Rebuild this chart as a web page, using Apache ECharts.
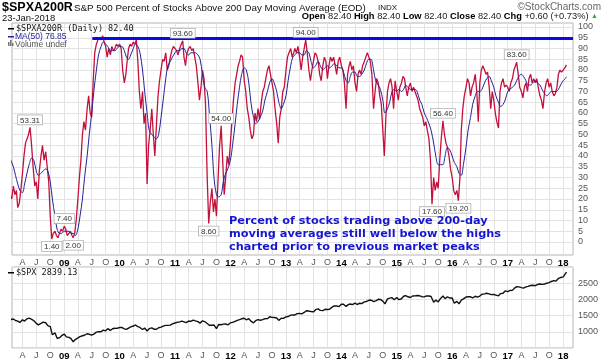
<!DOCTYPE html>
<html><head><meta charset="utf-8">
<script src="https://cdn.jsdelivr.net/npm/echarts@6/dist/echarts.min.js"></script>
<style>html,body{margin:0;padding:0;background:#fff}#c{width:605px;height:361px}</style>
</head><body><div id="c"></div>
<script>
// ---- $SPXA200R, sampled on the 1st, 11th and 21st of each month ----
const pct2008 = [30,22,20, 26,22,24, 16,18,24, 32,40,46, 46,50,53.31, 44,34,26, 28,20,33, 40,45,38, 42,35,28, 12,1.4,4, 5,3,2, 4,6,5];
const pct2009 = [7.4,6,3, 4,5,3, 2,4,10, 20,30,38, 50,56,52, 62,68,60, 58,75,88, 92,94,95, 94,96,93, 91,86,90, 87,91,89, 90,92,91];
const pct2010 = [92,90,80, 74,78,85, 90,92,91, 93,92,94, 84,70,62, 70,55,60, 27,45,52, 62,50,40, 55,68,75, 80,85,84, 88,80,82, 86,89,91];
const pct2011 = [90,89,87, 90,92,93.6, 86,82,88, 90,91,89, 90,86,82, 74,66,72, 80,76,64, 30,8.6,18, 25,14,20, 12,28,44, 54,38,22, 30,40,36];
const pct2012 = [46,56,66, 74,78,82, 84,87,86, 75,70,62, 58,52,48, 50,60,56, 62,57,64, 70,72,76, 80,82,78, 74,70,62, 55,46,58, 62,70,72];
const pct2013 = [80,86,88, 90,86,88, 90,88,91, 86,80,86, 90,94,88, 80,75,80, 84,88,87, 84,78,75, 82,86,84, 76,82,86, 84,86,82, 78,84,86];
const pct2014 = [82,80,74, 62,78,82, 84,80,82, 74,70,78, 80,78,82, 84,86,88, 86,84,78, 62,70,76, 74,68,64, 52,40,58, 70,74,76, 72,62,75];
const pct2015 = [70,66,72, 74,77,76, 72,68,72, 74,70,72, 70,68,66, 62,60,58, 54,56,52, 48,38,17.6, 30,24,28, 25,38,48, 56.4,50,46, 44,40,34];
const pct2016 = [30,24,22, 24,19.2,30, 52,62,68, 72,76,74, 68,72,74, 78,70,56, 74,80,82, 80,78,79, 72,62,70, 66,60,56, 53,70,74, 76,72,73];
const pct2017 = [72,70,74, 76,80,82, 83.6,78,72, 70,67,72, 74,70,76, 78,74,76, 74,76,72, 68,66,62, 70,74,76, 72,74,70, 68,69,72, 78,80,79];
const pct2018 = [80,81,82.4]; // Jan 2, Jan 12, Jan 23

// ---- MA(50), sampled on the 1st and 15th of each month ----
const ma2008 = [40,38, 35,31, 27,24, 23,27, 32,36, 39,38, 33,31, 32,33, 34,33, 28,20, 12,6, 4,4];
const ma2009 = [5,5, 5,4, 4,3, 6,12, 20,30, 40,50, 60,70, 80,87, 91,93, 92,91, 89,89, 89,90];
const ma2010 = [91,91, 89,86, 85,87, 90,92, 91,88, 80,70, 60,52, 50,49, 48,50, 58,66, 76,82, 84,86];
const ma2011 = [88,89, 89,90, 90,88, 87,88, 88,88, 87,85, 78,72, 70,60, 45,30, 22,21, 22,28, 32,34];
const ma2012 = [38,45, 55,64, 72,78, 81,80, 74,65, 58,55, 56,58, 61,66, 70,74, 76,74, 70,65, 62,64];
const ma2013 = [68,75, 82,86, 87,88, 88,87, 87,89, 88,84, 81,82, 84,82, 80,81, 82,81, 82,83, 82,81];
const ma2014 = [81,79, 75,74, 77,79, 79,77, 77,78, 80,83, 85,85, 80,75, 73,71, 66,60, 62,65, 70,71];
const ma2015 = [70,71, 70,71, 73,72, 71,71, 71,70, 66,64, 60,58, 55,52, 46,40, 36,36, 36,40, 44,43];
const ma2016 = [40,37, 35,32, 31,36, 44,52, 58,64, 68,70, 70,71, 74,76, 77,75, 72,68, 65,63, 64,66];
const ma2017 = [70,71, 72,73, 75,77, 78,77, 75,73, 73,74, 75,74, 73,71, 69,68, 69,70, 70,70, 71,73];
const ma2018 = [75,76,76.85]; // Jan 1, Jan 15, Jan 23

// ---- $SPX, sampled on the 1st and 15th of each month ----
const spx2008 = [1447,1380, 1395,1349, 1330,1290, 1370,1330, 1400,1420, 1385,1340, 1262,1215, 1260,1298, 1278,1192, 1160,907, 968,800, 816,880];
const spx2009 = [931,843, 826,790, 690,760, 810,852, 877,893, 940,923, 900,930, 990,1004, 1000,1052, 1030,1096, 1042,1093, 1109,1107];
const spx2010 = [1132,1136, 1090,1075, 1115,1150, 1178,1211, 1160,1135, 1070,1115, 1027,1096, 1120,1080, 1080,1125, 1146,1176, 1197,1198, 1206,1242];
const spx2011 = [1272,1293, 1307,1330, 1306,1281, 1332,1320, 1361,1337, 1314,1268, 1339,1316, 1254,1200, 1204,1209, 1099,1224, 1218,1236, 1244,1212];
const spx2012 = [1277,1289, 1324,1351, 1374,1402, 1419,1370, 1405,1330, 1278,1342, 1374,1356, 1375,1405, 1406,1465, 1445,1440, 1428,1353, 1416,1413];
const spx2013 = [1462,1472, 1513,1520, 1518,1560, 1570,1552, 1597,1650, 1640,1626, 1614,1682, 1706,1661, 1655,1697, 1690,1698, 1762,1798, 1800,1775];
const spx2014 = [1848,1848, 1782,1838, 1859,1841, 1885,1842, 1883,1870, 1924,1936, 1973,1981, 1930,1955, 2003,1999, 1946,1862, 2018,2039, 2053,1989];
const spx2015 = [2058,1992, 2020,2096, 2117,2081, 2059,2106, 2108,2122, 2111,2084, 2077,2107, 2104,2091, 1914,1978, 1923,2023, 2104,2023, 2080,2043];
const spx2016 = [2044,1880, 1940,1865, 1978,2015, 2072,2080, 2081,2046, 2097,2071, 2103,2161, 2170,2190, 2171,2147, 2151,2133, 2111,2180, 2191,2262];
const spx2017 = [2239,2275, 2279,2349, 2396,2385, 2362,2349, 2388,2402, 2430,2438, 2423,2459, 2476,2464, 2476,2500, 2519,2553, 2579,2565, 2647,2675];
const spx2018 = [2695,2786,2839.13]; // Jan 2, Jan 15, Jan 23

// ---- labelled extremes: date, value, side ----
const pointLabels = [
  ['2008-05-21', 53.31, 'top'], ['2008-10-11', 1.40, 'bottom'], ['2009-01-01', 7.40, 'top'],
  ['2009-03-01', 2.00, 'bottom'], ['2011-02-21', 93.60, 'top'], ['2011-08-11', 8.60, 'bottom'],
  ['2011-11-01', 54.00, 'top'], ['2013-05-11', 94.00, 'top'], ['2015-08-21', 17.60, 'bottom'],
  ['2015-11-01', 56.40, 'top'], ['2016-02-11', 19.20, 'bottom'], ['2017-03-01', 83.60, 'top']
];
const refLevel = 95;
const refStart = '2009-07-05';
const xMinDate = '2008-01-23', xMaxDate = '2018-03-07';
const monthLetters = {3: 'A', 6: 'J', 9: 'O'};

// ---- assemble ----
function d(y, m, day) { return new Date(y, m, day).getTime(); }
function ts(s) { const p = s.split('-').map(Number); return d(p[0], p[1] - 1, p[2]); }
function build(yearsArr, days, lastDays) {
  const out = [];
  yearsArr.forEach(([yr, vals]) => {
    if (yr === 2018) { vals.forEach((v, i) => out.push([d(2018, 0, lastDays[i]), v])); return; }
    vals.forEach((v, i) => {
      const m = Math.floor(i / days.length), k = i % days.length;
      out.push([d(yr, m, days[k]), v]);
    });
  });
  return out;
}
const pctData = build([[2008,pct2008],[2009,pct2009],[2010,pct2010],[2011,pct2011],[2012,pct2012],[2013,pct2013],[2014,pct2014],[2015,pct2015],[2016,pct2016],[2017,pct2017],[2018,pct2018]], [1,11,21], [2,12,23]);
const maData = build([[2008,ma2008],[2009,ma2009],[2010,ma2010],[2011,ma2011],[2012,ma2012],[2013,ma2013],[2014,ma2014],[2015,ma2015],[2016,ma2016],[2017,ma2017],[2018,ma2018]], [1,15], [1,15,23]);
const spxData = build([[2008,spx2008],[2009,spx2009],[2010,spx2010],[2011,spx2011],[2012,spx2012],[2013,spx2013],[2014,spx2014],[2015,spx2015],[2016,spx2016],[2017,spx2017],[2018,spx2018]], [1,15], [2,15,23]);

const xMin = ts(xMinDate), xMax = ts(xMaxDate);
const quarterTicks = [];
for (let y = 2008; y <= 2018; y++) for (let m = 0; m < 12; m += 3) {
  const t = d(y, m, 1);
  if (t > xMin && t < xMax) quarterTicks.push(t);
}
function fmt(v) {
  const dt = new Date(v), m = dt.getMonth();
  if (m === 0) return '{y|' + String(dt.getFullYear()).slice(2) + '}';
  return monthLetters[m] || '';
}
const FONT = '"Liberation Sans", Arial, sans-serif';
const MONO = '"DejaVu Sans Mono", monospace';
const gridLine = {show: true, lineStyle: {color: '#e3e3e3', width: 1}};
function xAxisDef(gi, show) {
  return {
    gridIndex: gi, type: 'value', min: xMin, max: xMax, show: show,
    axisLine: {show: false}, axisTick: {show: false, customValues: quarterTicks},
    axisLabel: {customValues: quarterTicks, formatter: fmt, fontSize: 9, color: '#555', margin: 3,
      fontFamily: FONT, hideOverlap: false,
      rich: {y: {fontWeight: 'bold', color: '#000', fontSize: 9.5, fontFamily: FONT}}},
    splitLine: gridLine
  };
}
const Z = 100;

const chart = echarts.init(document.getElementById('c'), null, {renderer: 'canvas'});
chart.setOption({
  animation: false,
  backgroundColor: '#fff',
  textStyle: {fontFamily: FONT},
  grid: [
    {left: 12, right: 32, top: 23, height: 232, show: true, borderColor: '#b5b5b5', borderWidth: 1},
    {left: 12, right: 32, top: 27, height: 215},
    {left: 12, right: 32, top: 267, height: 81, show: true, borderColor: '#b5b5b5', borderWidth: 1}
  ],
  xAxis: [xAxisDef(0, true), xAxisDef(1, false), xAxisDef(2, true)],
  yAxis: [
    {gridIndex: 0, type: 'value', min: 0, max: 1, show: false, splitLine: {show: false}},
    {gridIndex: 1, type: 'value', position: 'right', min: 0, max: 100, interval: 5,
      axisLine: {show: false}, axisTick: {show: false},
      axisLabel: {fontSize: 9, color: '#555', margin: 5, fontFamily: FONT}, splitLine: gridLine},
    {gridIndex: 2, type: 'value', position: 'right', min: 500, max: 3000, interval: 500,
      axisLine: {show: false}, axisTick: {show: false},
      axisLabel: {fontSize: 9, color: '#555', margin: 5, fontFamily: FONT, showMinLabel: false, showMaxLabel: false,
        formatter: v => String(v)},
      splitLine: gridLine}
  ],
  series: [
    {name: 'MA(50)', type: 'line', xAxisIndex: 1, yAxisIndex: 1, data: maData, symbol: 'none',
      smooth: 0.35, lineStyle: {color: '#23239b', width: 1}, z: 4,
      markLine: {silent: true, symbol: ['none', 'none'], label: {show: false},
        lineStyle: {color: '#0a0ae6', width: 3, type: 'solid'},
        data: [[{coord: [ts(refStart), refLevel]}, {coord: [xMax, refLevel]}]]}},
    {name: '$SPXA200R', type: 'line', xAxisIndex: 1, yAxisIndex: 1, data: pctData, symbol: 'none',
      lineStyle: {color: '#c4103a', width: 1.3}, z: 3,
      markPoint: {symbol: 'circle', symbolSize: 0, silent: true,
        label: {show: true, fontSize: 8, color: '#333', fontFamily: FONT, backgroundColor: '#fff',
          borderColor: '#b0b0b0', borderWidth: 0.8, padding: [1, 2, 0, 2], distance: 3,
          formatter: p => Number(p.data.coord[1]).toFixed(2)},
        data: pointLabels.map(p => ({coord: [ts(p[0]), p[1]], label: {position: p[2]}}))}},
    {name: '$SPX', type: 'line', xAxisIndex: 2, yAxisIndex: 2, data: spxData, symbol: 'none',
      lineStyle: {color: '#111', width: 1.4}}
  ],
  graphic: [
    {type: 'text', z: Z, left: 2, top: 1, style: {text: '$SPXA200R', font: 'bold 12.5px ' + FONT, fill: '#000'}},
    {type: 'text', z: Z, left: 74, top: 3, style: {text: 'S&P 500 Percent of Stocks Above 200 Day Moving Average (EOD)', font: '9.8px ' + FONT, fill: '#111'}},
    {type: 'text', z: Z, left: 378, top: 4, style: {text: 'INDX', font: '8px ' + FONT, fill: '#111'}},
    {type: 'text', z: Z, left: 2, top: 13, style: {text: '23-Jan-2018', font: '9.5px ' + FONT, fill: '#111'}},
    {type: 'text', z: Z, right: 4, top: 2, style: {text: '©StockCharts.com', font: '10px ' + FONT, fill: '#666'}},
    {type: 'text', z: Z, right: 7, top: 12, style: {
      text: '{b|Open} 82.40 {b|High} 82.40 {b|Low} 82.40 {b|Close} 82.40 {b|Chg} +0.60 (+0.73%) {g|▲}',
      font: '9.3px ' + FONT, fill: '#222',
      rich: {b: {fontWeight: 'bold', fontSize: 9.3, fill: '#000', fontFamily: FONT}, g: {fontSize: 7, fill: '#3a3'}}}},
    {type: 'rect', z: Z, shape: {x: 8, y: 28, width: 6, height: 1.5}, style: {fill: '#000'}},
    {type: 'text', z: Z, left: 16, top: 24, style: {text: '$SPXA200R (Daily) 82.40', font: '8.5px ' + MONO, fill: '#111'}},
    {type: 'rect', z: Z, shape: {x: 8, y: 36, width: 6, height: 1.5}, style: {fill: '#23239b'}},
    {type: 'text', z: Z, left: 15, top: 32, style: {text: 'MA(50) 76.85', font: '8.5px ' + FONT, fill: '#23239b'}},
    {type: 'rect', z: Z, shape: {x: 8, y: 42, width: 1.5, height: 4}, style: {fill: '#777'}},
    {type: 'rect', z: Z, shape: {x: 10, y: 40, width: 1.5, height: 6}, style: {fill: '#777'}},
    {type: 'rect', z: Z, shape: {x: 12, y: 43, width: 1.5, height: 3}, style: {fill: '#777'}},
    {type: 'text', z: Z, left: 15, top: 40, style: {text: 'Volume undef', font: '8.5px ' + FONT, fill: '#555'}},
    {type: 'rect', z: Z, shape: {x: 8, y: 272, width: 6, height: 1.5}, style: {fill: '#000'}},
    {type: 'text', z: Z, left: 16, top: 268, style: {text: '$SPX 2839.13', font: '8.5px ' + MONO, fill: '#111'}},
    {type: 'text', z: Z, left: 229, top: 215, style: {
      text: 'Percent of stocks trading above 200-day\nmoving averages still well below the highs\ncharted prior to previous market peaks',
      font: 'bold 11.3px "DejaVu Sans", Verdana, sans-serif', fill: '#1616d2', lineHeight: 13}}
  ]
});
</script></body></html>
